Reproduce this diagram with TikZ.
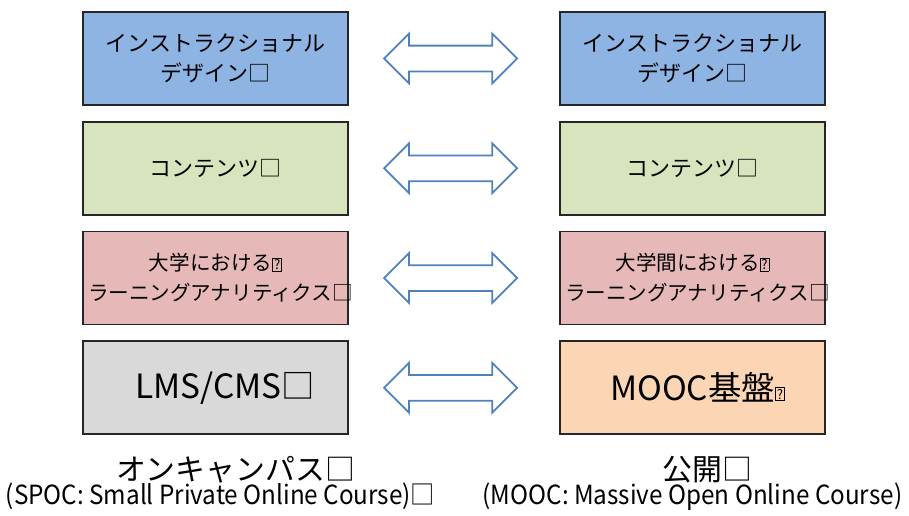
\documentclass[tikz,border=0pt]{standalone}
\usepackage{fontspec}
\setmainfont{Noto Sans CJK JP}
\newfontfamily\narrowfont[FakeStretch=0.92]{Noto Sans CJK JP}
\usetikzlibrary{positioning,shapes.arrows}
\definecolor{idblue}{RGB}{142,180,227}
\definecolor{contgreen}{RGB}{215,228,189}
\definecolor{lapink}{RGB}{230,185,184}
\definecolor{lmsgray}{RGB}{217,217,217}
\definecolor{moocpeach}{RGB}{252,213,181}
\definecolor{arrowblue}{RGB}{79,129,189}
\newcommand{\tofu}{□}
\newcommand{\qtofu}{\raisebox{0.1ex}{\fboxsep=0.6pt\fboxrule=0.4pt\fbox{\fontsize{7.5}{7.5}\selectfont ?}}}

\begin{document}
\begin{tikzpicture}[node distance=0.3cm,
    box/.style={draw=black!85, line width=1pt, rectangle, text width=5.1cm, inner xsep=0.1cm, minimum height=1.86cm, align=center, font=\fontsize{12.5}{17}\selectfont},
    dblarrow/.style={draw=arrowblue, fill=white, line width=1pt, double arrow, double arrow head extend=0.24cm, double arrow tip angle=90, inner sep=0pt, inner ysep=0.24cm, minimum height=2.66cm}]
    \useasboundingbox (0,0) rectangle (18.18,-10.3);

    % left column
    \node (l1) [box, fill=idblue] at (4.31,-1.17) {インストラクショナル\\デザイン\tofu};
    \node (l2) [box, fill=contgreen, below=of l1] {コンテンツ\tofu};
    \node (l3) [box, fill=lapink, below=of l2, font=\fontsize{11.7}{17}\selectfont] {大学における\qtofu\\ラーニングアナリティクス\tofu};
    \node (l4) [box, fill=lmsgray, below=of l3, font=\fontsize{19}{22}\selectfont] {\hspace*{0.4cm}LMS/CMS\tofu};

    % right column
    \node (r1) [box, fill=idblue] at (13.85,-1.17) {インストラクショナル\\デザイン\tofu};
    \node (r2) [box, fill=contgreen, below=of r1] {コンテンツ\tofu};
    \node (r3) [box, fill=lapink, below=of r2, font=\fontsize{11.7}{17}\selectfont] {大学間における\qtofu\\ラーニングアナリティクス\tofu};
    \node (r4) [box, fill=moocpeach, below=of r3, font=\fontsize{19}{22}\selectfont] {\hspace*{0.2cm}MOOC基盤\qtofu};

    % arrows
    \foreach \i in {1,...,4}
        \node (a\i) [dblarrow, right=0.68cm of l\i] {};

    % captions
    \node (ltitle) [below=0.3cm of l4, xshift=0.4cm, font=\fontsize{17}{20}\selectfont] {オンキャンパス\tofu};
    \node (lsub) [below=-0.25cm of ltitle, xshift=-0.3cm, font=\narrowfont\fontsize{15}{17}\selectfont] {(SPOC: Small Private Online Course)\tofu};
    \node (rtitle) [below=0.3cm of r4, xshift=0.3cm, font=\fontsize{17}{20}\selectfont] {公開\tofu};
    \node (rsub) [below=-0.25cm of rtitle, xshift=-0.3cm, font=\narrowfont\fontsize{15}{17}\selectfont] {(MOOC: Massive Open Online Course)};
\end{tikzpicture}
\end{document}
